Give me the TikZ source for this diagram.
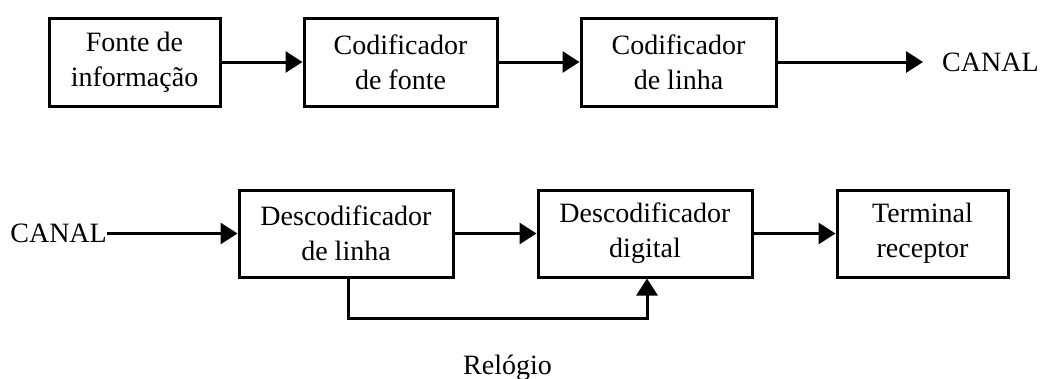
\documentclass[tikz,border=0pt]{standalone}
\usepackage{fontspec}
\setmainfont{Liberation Serif}
\usetikzlibrary{arrows.meta}
\begin{document}
\begin{tikzpicture}[x=1pt,y=-1pt,
  blk/.style={draw,line width=3pt,align=center,inner sep=0pt,
    font=\fontsize{28}{35}\selectfont},
  lbl/.style={inner sep=0pt,font=\fontsize{28}{35}\selectfont},
  conn/.style={line width=3pt,-{Triangle[length=17pt,width=21pt]}}]
\useasboundingbox (0,0) rectangle (1048,378);
\node[blk,minimum width=171pt,minimum height=88pt] (b1) at (134.5,62) {Fonte de\\informação};
\node[blk,minimum width=193pt,minimum height=88pt] (b2) at (400.5,62) {Codificador\\de fonte};
\node[blk,minimum width=195pt,minimum height=88pt] (b3) at (678.5,62) {Codificador\\de linha};
\node[lbl,anchor=west] (canalT) at (942,62) {CANAL};
\coordinate (outT) at (923,62);
\node[blk,minimum width=214pt,minimum height=87pt] (b4) at (346,233.5) {Descodificador\\de linha};
\node[blk,minimum width=214pt,minimum height=87pt] (b5) at (645,233.5) {Descodificador\\digital};
\node[blk,minimum width=171pt,minimum height=87pt] (b6) at (922.5,233.5) {Terminal\\receptor};
\node[lbl,anchor=east] (canalB) at (107,233.5) {CANAL};
\node[lbl,anchor=base] (rel) at (507.5,374) {Relógio};
\draw[conn] (b1) -- (b2);
\draw[conn] (b2) -- (b3);
\draw[conn] (b3) -- (outT);
\draw[conn] (canalB.east) -- (b4.west);
\draw[conn] (b4) -- (b5);
\draw[conn] (b5) -- (b6);
\draw[conn] ([xshift=2pt]b4.south) -- ++(0,40) -| ([xshift=2pt]b5.south);
\end{tikzpicture}
\end{document}
